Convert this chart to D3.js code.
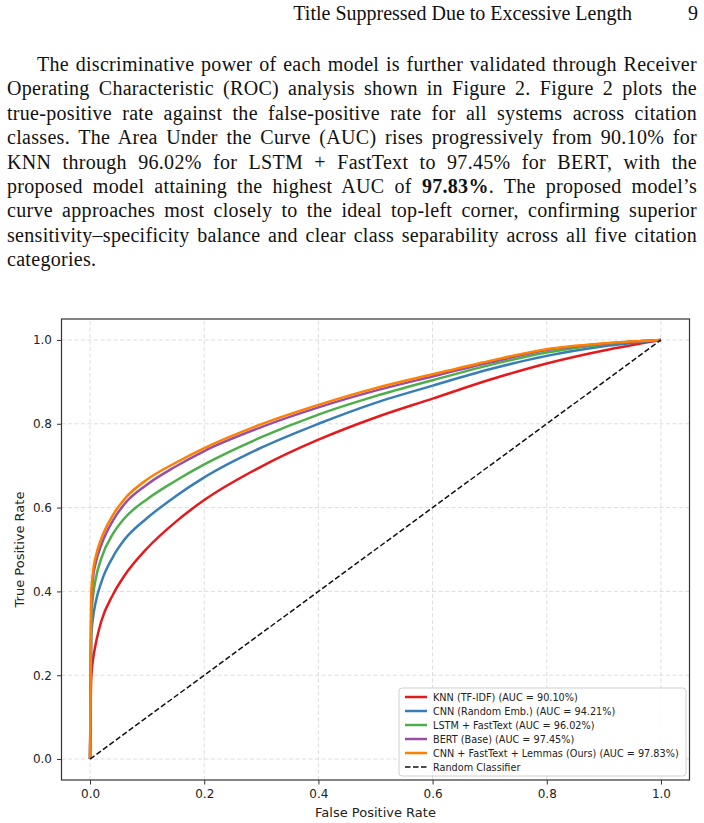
<!DOCTYPE html>
<html lang="en">
<head>
  <meta charset="UTF-8">
  <title>ROC curves</title>
  <style>
    html, body {
      margin: 0;
      padding: 0;
      background: #fff;
    }
    #svg {
      display: block;
    }
    .page-text {
      font-family: "Liberation Serif", "DejaVu Serif", serif;
      font-size: 20px;
      fill: #111;
    }
    .plot-text {
      font-family: "DejaVu Sans", sans-serif;
      fill: #222;
    }
  </style>
</head>
<body>
  <svg id="svg" width="704" height="823"></svg>

  <script src="https://cdn.jsdelivr.net/npm/d3@7"></script>
  <script>
    // ---- data ----
    const fpr = [0, 0.002, 0.005, 0.01, 0.02, 0.04, 0.06, 0.1, 0.15, 0.2, 0.3, 0.4, 0.5, 0.6, 0.7, 0.8, 0.9, 1.0]
    const tprKnn = [0, 0.19, 0.235, 0.275, 0.33, 0.392, 0.437, 0.503, 0.566, 0.618, 0.698, 0.762, 0.815, 0.860, 0.905, 0.944, 0.975, 1.0]
    const tprCnn = [0, 0.29, 0.335, 0.375, 0.423, 0.482, 0.523, 0.575, 0.627, 0.672, 0.743, 0.800, 0.850, 0.891, 0.930, 0.962, 0.985, 1.0]
    const tprLstm = [0, 0.33, 0.385, 0.43, 0.48, 0.537, 0.574, 0.620, 0.664, 0.703, 0.768, 0.822, 0.866, 0.904, 0.940, 0.970, 0.990, 1.0]
    const tprBert = [0, 0.37, 0.43, 0.468, 0.512, 0.569, 0.608, 0.655, 0.698, 0.735, 0.792, 0.839, 0.879, 0.913, 0.946, 0.976, 0.991, 1.0]
    const tprOurs = [0, 0.39, 0.445, 0.483, 0.527, 0.582, 0.620, 0.667, 0.707, 0.742, 0.799, 0.845, 0.885, 0.918, 0.950, 0.978, 0.992, 1.0]
    const randomLine = [0, 1]

    const seriesNames = [
      'KNN (TF-IDF) (AUC = 90.10%)',
      'CNN (Random Emb.) (AUC = 94.21%)',
      'LSTM + FastText (AUC = 96.02%)',
      'BERT (Base) (AUC = 97.45%)',
      'CNN + FastText + Lemmas (Ours) (AUC = 97.83%)'
    ]
    const seriesTpr = [tprKnn, tprCnn, tprLstm, tprBert, tprOurs]
    const seriesColors = ['#e41a1c', '#377eb8', '#4daf4a', '#984ea3', '#ff7f00']
    const tickValues = [0, 0.2, 0.4, 0.6, 0.8, 1.0]

    // ---- page text ----
    const headerTitle = 'Title Suppressed Due to Excessive Length'
    const pageNumber = '9'
    const paragraph = [
      [['The discriminative power of each model is further validated through Receiver']],
      [['Operating Characteristic (ROC) analysis shown in Figure 2. Figure 2 plots the']],
      [['true-positive rate against the false-positive rate for all systems across citation']],
      [['classes. The Area Under the Curve (AUC) rises progressively from 90.10% for']],
      [['KNN through 96.02% for LSTM + FastText to 97.45% for BERT, with the']],
      [['proposed model attaining the highest AUC of '], ['97.83%', 'bold'], ['. The proposed model\u2019s']],
      [['curve approaches most closely to the ideal top-left corner, confirming superior']],
      [['sensitivity\u2013specificity balance and clear class separability across all five citation']],
      [['categories.']]
    ]

    const svg = d3.select('#svg')

    // running head
    svg.append('text')
      .attr('class', 'page-text')
      .attr('x', 632)
      .attr('y', 20)
      .attr('text-anchor', 'end')
      .text(headerTitle)

    svg.append('text')
      .attr('class', 'page-text')
      .attr('x', 698)
      .attr('y', 20)
      .attr('text-anchor', 'end')
      .text(pageNumber)

    // justified paragraph
    const textLeft = 7
    const textRight = 697
    const indent = 30
    const lineGap = 24.4

    paragraph.forEach((segs, i) => {
      const x0 = textLeft + (i === 0 ? indent : 0)
      const t = svg.append('text')
        .attr('class', 'page-text')
        .attr('x', x0)
        .attr('y', 71 + i * lineGap)
        .attr('xml:space', 'preserve')
        .style('letter-spacing', '0.3px')
      segs.forEach(s => {
        t.append('tspan')
          .attr('font-weight', s[1] === 'bold' ? 'bold' : null)
          .text(s[0])
      })
      if (i < paragraph.length - 1) {
        const full = segs.map(s => s[0]).join('')
        const spaces = (full.match(/ /g) || []).length
        const natural = t.node().getComputedTextLength()
        const ws = (textRight - x0 - natural) / spaces
        t.style('word-spacing', ws + 'px')
      }
    })

    // ---- chart ----
    const x = d3.scaleLinear().domain([-0.05, 1.05]).range([61.5, 689.5])
    const y = d3.scaleLinear().domain([-0.05, 1.05]).range([780, 319])

    const chart = svg.append('g')

    // grid
    chart.append('g')
      .selectAll('line.vgrid')
      .data(tickValues)
      .enter()
      .append('line')
      .attr('class', 'vgrid')
      .attr('x1', d => x(d))
      .attr('x2', d => x(d))
      .attr('y1', y.range()[0])
      .attr('y2', y.range()[1])
      .attr('stroke', '#d4d4d4')
      .attr('stroke-width', 0.8)
      .attr('stroke-dasharray', '4,2.5')

    chart.append('g')
      .selectAll('line.hgrid')
      .data(tickValues)
      .enter()
      .append('line')
      .attr('class', 'hgrid')
      .attr('y1', d => y(d))
      .attr('y2', d => y(d))
      .attr('x1', x.range()[0])
      .attr('x2', x.range()[1])
      .attr('stroke', '#d4d4d4')
      .attr('stroke-width', 0.8)
      .attr('stroke-dasharray', '4,2.5')

    // curves
    const lineGen = d3.line()
      .x(d => x(d[0]))
      .y(d => y(d[1]))
      .curve(d3.curveMonotoneX)

    seriesTpr.forEach((tpr, i) => {
      chart.append('path')
        .datum(fpr.map((f, j) => [f, tpr[j]]))
        .attr('d', lineGen)
        .attr('fill', 'none')
        .attr('stroke', seriesColors[i])
        .attr('stroke-width', 2.5)
        .attr('stroke-linejoin', 'round')
    })

    // random classifier
    chart.append('path')
      .datum(randomLine.map(v => [v, v]))
      .attr('d', d3.line().x(d => x(d[0])).y(d => y(d[1])))
      .attr('fill', 'none')
      .attr('stroke', '#111')
      .attr('stroke-width', 1.5)
      .attr('stroke-dasharray', '5.5,2.5')

    // axes
    const xAxis = chart.append('g')
      .attr('transform', `translate(0, ${y.range()[0]})`)
      .call(d3.axisBottom(x).tickValues(tickValues).tickFormat(d3.format('.1f')).tickSize(4.5).tickPadding(5))
    const yAxis = chart.append('g')
      .attr('transform', `translate(${x.range()[0]}, 0)`)
      .call(d3.axisLeft(y).tickValues(tickValues).tickFormat(d3.format('.1f')).tickSize(4.5).tickPadding(5))

    ;[xAxis, yAxis].forEach(a => {
      a.select('.domain').remove()
      a.selectAll('.tick line').attr('stroke', '#333').attr('stroke-width', 1)
      a.selectAll('.tick text')
        .attr('class', 'plot-text')
        .attr('font-size', 12)
        .attr('fill', '#222')
    })

    // frame
    chart.append('rect')
      .attr('x', x.range()[0])
      .attr('y', y.range()[1])
      .attr('width', x.range()[1] - x.range()[0])
      .attr('height', y.range()[0] - y.range()[1])
      .attr('fill', 'none')
      .attr('stroke', '#333')
      .attr('stroke-width', 1.2)

    // axis labels
    svg.append('text')
      .attr('class', 'plot-text')
      .attr('x', (x.range()[0] + x.range()[1]) / 2)
      .attr('y', 817)
      .attr('text-anchor', 'middle')
      .attr('font-size', 13)
      .text('False Positive Rate')

    svg.append('text')
      .attr('class', 'plot-text')
      .attr('transform', `translate(24, ${(y.range()[0] + y.range()[1]) / 2}) rotate(-90)`)
      .attr('text-anchor', 'middle')
      .attr('font-size', 13)
      .text('True Positive Rate')

    // legend
    const legendNames = seriesNames.concat(['Random Classifier'])
    const legend = svg.append('g')
      .attr('transform', 'translate(399, 688)')

    legend.append('rect')
      .attr('width', 287)
      .attr('height', 88)
      .attr('rx', 3)
      .attr('fill', 'rgba(255,255,255,0.85)')
      .attr('stroke', '#d0d0d0')
      .attr('stroke-width', 1)

    const rows = legend.selectAll('g.row')
      .data(legendNames)
      .enter()
      .append('g')
      .attr('class', 'row')
      .attr('transform', (d, i) => `translate(0, ${9 + i * 14})`)

    rows.append('line')
      .attr('x1', 6)
      .attr('x2', 28)
      .attr('stroke', (d, i) => i < seriesColors.length ? seriesColors[i] : '#111')
      .attr('stroke-width', (d, i) => i < seriesColors.length ? 2.5 : 1.5)
      .attr('stroke-dasharray', (d, i) => i < seriesColors.length ? null : '5.5,2.5')

    rows.append('text')
      .attr('class', 'plot-text')
      .attr('x', 34)
      .attr('y', 3.5)
      .attr('font-size', 9.7)
      .text(d => d)
  </script>
</body>
</html>
